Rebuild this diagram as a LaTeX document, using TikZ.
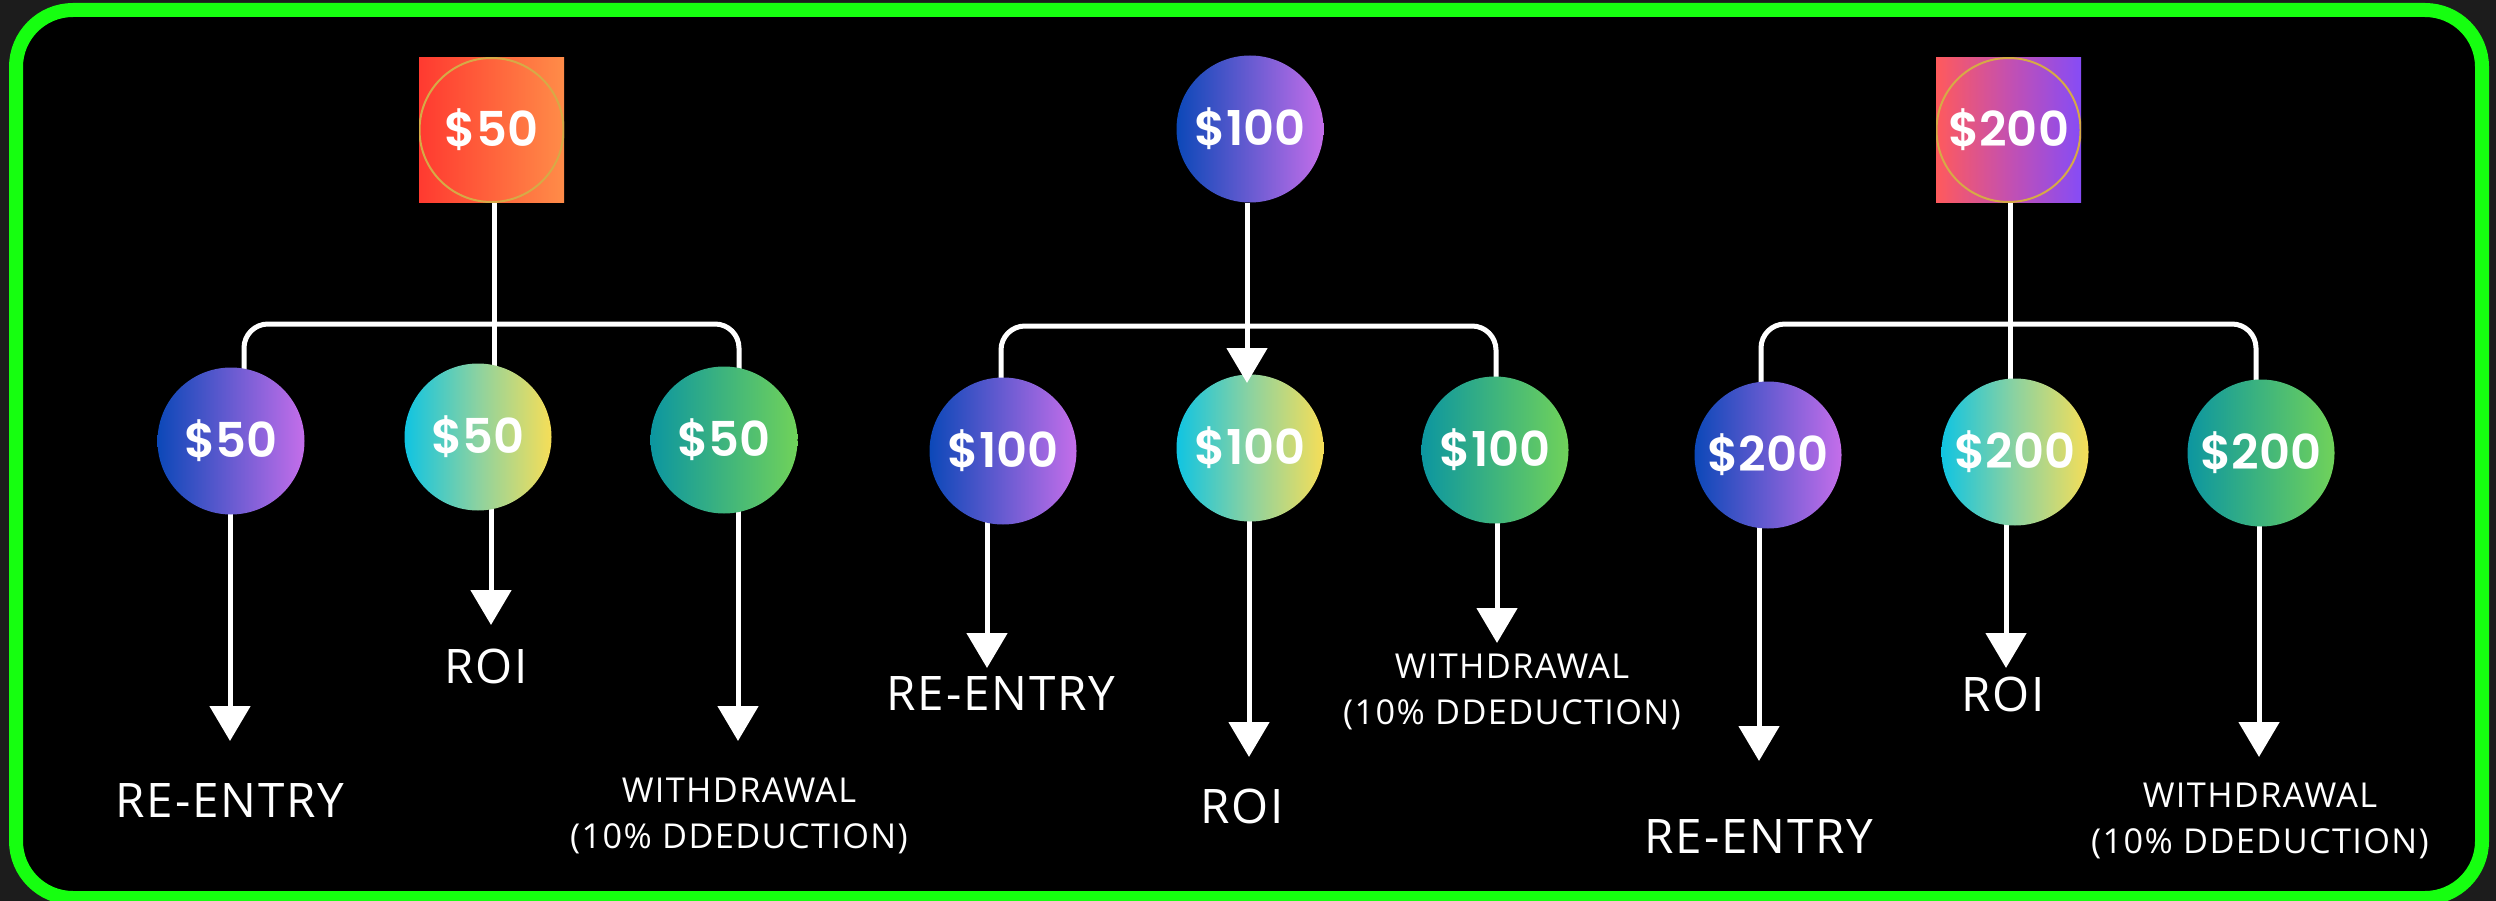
\documentclass[tikz,border=0pt]{standalone}
\usepackage{fontspec}
\newfontfamily\numfont{Poppins}[BoldFont={Poppins SemiBold}]
\newfontfamily\labfont{Open Sans}[LetterSpace=4]
\usetikzlibrary{arrows.meta}
\pgfdeclarelayer{back}
\pgfdeclarelayer{bg}
\pgfsetlayers{back,bg,main}
\definecolor{bgray}{RGB}{28,28,28}
\definecolor{neon}{RGB}{22,255,16}
\definecolor{gold}{RGB}{214,170,70}
\definecolor{bpA}{RGB}{12,72,184}
\definecolor{bpB}{RGB}{196,110,234}
\definecolor{cyA}{RGB}{16,196,226}
\definecolor{cyM}{RGB}{140,210,160}
\definecolor{cyB}{RGB}{246,222,88}
\definecolor{tgA}{RGB}{12,150,160}
\definecolor{tgB}{RGB}{112,210,90}
\definecolor{orA}{RGB}{255,58,48}
\definecolor{orB}{RGB}{255,140,72}
\definecolor{pkA}{RGB}{255,90,92}
\definecolor{pkM}{RGB}{196,80,176}
\definecolor{pkB}{RGB}{134,76,246}
\tikzset{
  coinfont/.style={text=white, font=\numfont\bfseries\fontsize{48}{56}\selectfont},
  coin/.style={coinfont, circle, minimum size=147pt, inner sep=0pt},
  bp/.style={coin, left color=bpA, right color=bpB},
  cy/.style={coin, left color=cyA, right color=cyB, middle color=cyM},
  tg/.style={coin, left color=tgA, right color=tgB},
  topsq/.style={coinfont, rectangle, minimum size=145pt, inner sep=0pt,
    path picture={\draw[gold, line width=2pt] (path picture bounding box.center) circle (72pt);}},
  sqorange/.style={topsq, left color=orA, right color=orB},
  sqpink/.style={topsq, left color=pkA, right color=pkB, middle color=pkM},
  conn/.style={draw=white, line width=5pt},
  bar/.style={conn, rounded corners=24pt},
  arr/.style={conn, -{Triangle[width=40pt,length=35pt]}},
  lab/.style={text=white, font=\labfont\fontsize{47.6}{57}\selectfont, inner sep=0pt},
  wlab/.style={text=white, font=\labfont\fontsize{34.3}{46}\selectfont, align=center, inner sep=0pt}
}
\begin{document}
\begin{tikzpicture}[x=1pt, y=-1pt]
\useasboundingbox (0,0) rectangle (2496,901);
\begin{pgfonlayer}{back}
\fill[bgray] (0,0) rectangle (2496,901);
\filldraw[fill=black, draw=neon, line width=14pt, rounded corners=57pt] (16,10) rectangle (2482,898);
\end{pgfonlayer}

% ---------- group 1 ----------
\node[sqorange] (p1) at (491.5,130) {\$50};
\node[bp] (c11) at (231,441) {\$50};
\node[cy] (c12) at (478,437) {\$50};
\node[tg] (c13) at (724,440) {\$50};
\coordinate (j1) at (494,324);
\coordinate (d11) at (244,0);
\coordinate (d13) at (739,0);
\coordinate (t11) at (230,741);
\coordinate (t12) at (491,625);
\coordinate (t13) at (738,741);
\node[lab] (l11) at (230,801) {RE-ENTRY};
\node[lab] (l12) at (486,666) {ROI};
\node[wlab] (l13) at (739,816) {WITHDRAWAL\\(10\% DDEDUCTION)};
\begin{pgfonlayer}{bg}
\draw[conn] (p1.center -| j1) -- (c12.center -| j1);
\draw[bar] (d11 |- c11) |- (j1) -| (d13 |- c13);
\draw[arr] (c11.center -| t11) -- (t11);
\draw[arr] (c12.center -| t12) -- (t12);
\draw[arr] (c13.center -| t13) -- (t13);
\end{pgfonlayer}

% ---------- group 2 ----------
\node[bp] (p2) at (1250,129) {\$100};
\node[bp] (c21) at (1003,451) {\$100};
\node[cy] (c22) at (1250,448) {\$100};
\node[tg] (c23) at (1495,450) {\$100};
\coordinate (j2) at (1247,326);
\coordinate (d21) at (1001,0);
\coordinate (d23) at (1496,0);
\coordinate (t2m) at (1247,383);
\coordinate (t21) at (987,668);
\coordinate (t22) at (1249,757);
\coordinate (t23) at (1497,643);
\node[lab] (l21) at (1001,694) {RE-ENTRY};
\node[lab] (l22) at (1242,806) {ROI};
\node[wlab] (l23) at (1512,692) {WITHDRAWAL\\(10\% DDEDUCTION)};
\draw[arr] (p2.south -| t2m) -- (t2m);
\begin{pgfonlayer}{bg}
\draw[bar] (d21 |- c21) |- (j2) -| (d23 |- c23);
\draw[arr] (c21.center -| t21) -- (t21);
\draw[arr] (c22.center -| t22) -- (t22);
\draw[arr] (c23.center -| t23) -- (t23);
\end{pgfonlayer}

% ---------- group 3 ----------
\node[sqpink] (p3) at (2008.5,130) {\$200};
\node[bp] (c31) at (1768,455) {\$200};
\node[cy] (c32) at (2015,452) {\$200};
\node[tg] (c33) at (2261,453) {\$200};
\coordinate (j3) at (2010,324);
\coordinate (d31) at (1761,0);
\coordinate (d33) at (2256,0);
\coordinate (t31) at (1759,761);
\coordinate (t32) at (2006,668);
\coordinate (t33) at (2259,757);
\node[lab] (l31) at (1759,837) {RE-ENTRY};
\node[lab] (l32) at (2003,694) {ROI};
\node[wlab] (l33) at (2260,821) {WITHDRAWAL\\(10\% DDEDUCTION)};
\begin{pgfonlayer}{bg}
\draw[conn] (p3.center -| j3) -- (c32.center -| j3);
\draw[bar] (d31 |- c31) |- (j3) -| (d33 |- c33);
\draw[arr] (c31.center -| t31) -- (t31);
\draw[arr] (c32.center -| t32) -- (t32);
\draw[arr] (c33.center -| t33) -- (t33);
\end{pgfonlayer}
\end{tikzpicture}
\end{document}
